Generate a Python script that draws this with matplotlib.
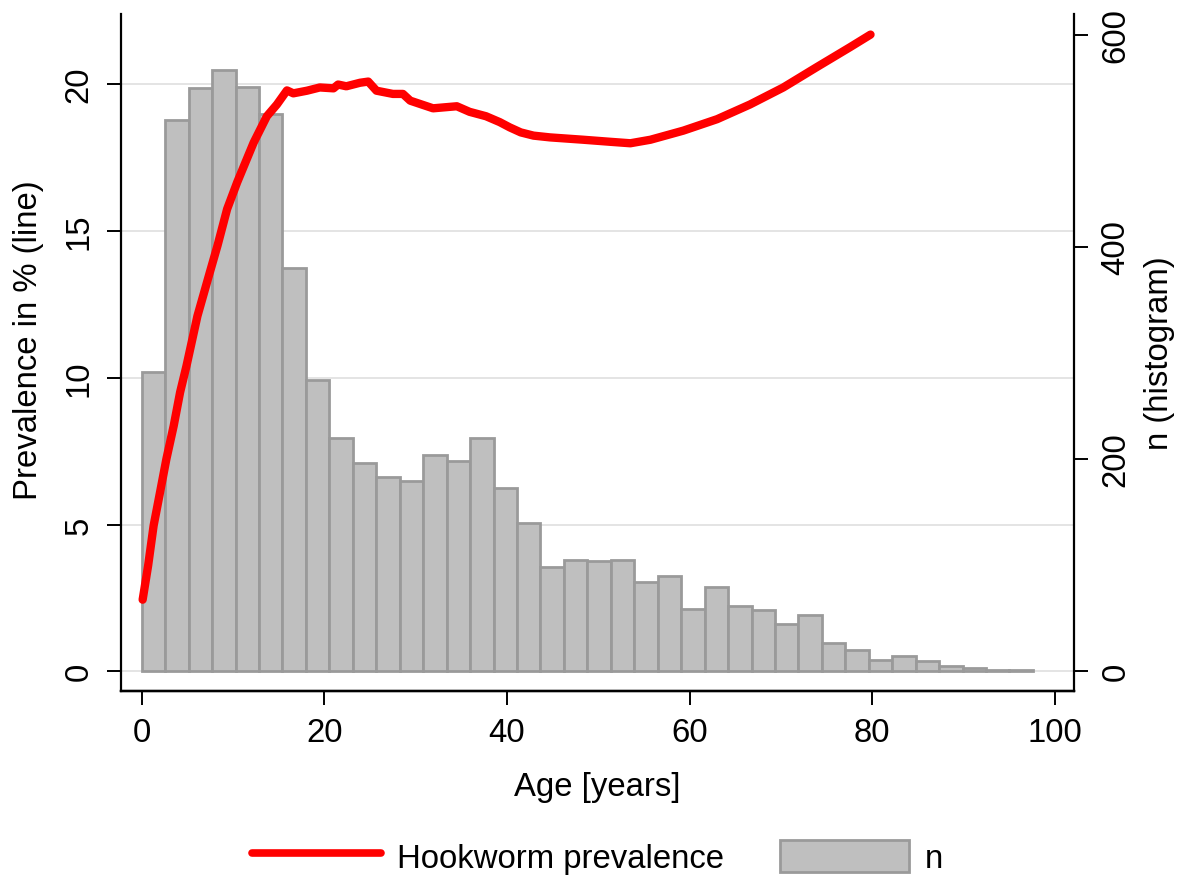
import numpy as np
import matplotlib
matplotlib.use("Agg")
import matplotlib.pyplot as plt
from matplotlib.lines import Line2D
from matplotlib.patches import Patch

plt.rcParams['font.family'] = ['Liberation Sans', 'DejaVu Sans']
plt.rcParams['font.size'] = 23.7

# histogram: 38 bins of equal width from age 0 to ~97.6
bin_width = 2.568
counts = [282, 520, 550, 567, 551, 525, 380, 275, 220, 196,
          183, 179, 204, 198, 220, 173, 140, 98, 105, 104,
          105, 84, 90, 59, 79, 62, 58, 45, 53, 27,
          20, 11, 14, 10, 5, 3, 1.5, 1]

# smoothed prevalence line
age = [0.1, 0.7, 1.3, 2.0, 2.7, 3.5, 4.2, 4.9, 6.1, 7.35,
       8.3, 9.35, 10.45, 12.25, 13.7, 14.8, 15.9, 16.6, 18.1, 19.5,
       21.0, 21.5, 22.4, 23.9, 24.8, 25.7, 27.5, 28.6, 29.4, 31.9,
       34.5, 35.9, 37.7, 39.2, 40.3, 41.5, 42.9, 44.7, 48.35, 51.3,
       53.5, 55.7, 59.3, 63.0, 66.6, 70.25, 73.9, 77.55, 79.8]
prev = [2.44, 3.6, 4.96, 6.09, 7.23, 8.36, 9.5, 10.4, 12.1, 13.47,
        14.5, 15.74, 16.65, 18.0, 18.9, 19.3, 19.78, 19.68, 19.77, 19.88,
        19.85, 19.98, 19.92, 20.04, 20.08, 19.77, 19.66, 19.66, 19.43, 19.17,
        19.24, 19.05, 18.9, 18.7, 18.52, 18.35, 18.24, 18.18, 18.1, 18.03,
        17.98, 18.1, 18.41, 18.8, 19.3, 19.88, 20.57, 21.25, 21.68]

fig = plt.figure(figsize=(11.84, 8.79), dpi=100)
ax = fig.add_axes([0.1022, 0.2127, 0.8049, 0.7702])
ax_n = ax.twinx()
ax_l = ax.twinx()

# grid on the left axis, below the bars
ax.set_xlim(-2.27, 102.08)
ax.set_ylim(-0.67, 22.38)
ax.set_yticks([0, 5, 10, 15, 20])
ax.set_xticks([0, 20, 40, 60, 80, 100])
ax.yaxis.grid(True, color='#dcdcdc', linewidth=1.1)
ax.set_axisbelow(True)

# histogram on the right axis
edges = np.arange(len(counts)) * bin_width
ax_n.bar(edges, counts, width=bin_width, align='edge', color='#bfbfbf',
         edgecolor='#9a9a9a', linewidth=2)
ax_n.set_ylim(-18.6, 619.5)
ax_n.set_yticks([0, 200, 400, 600])

# line on its own axis with the left scale
ax_l.plot(age, prev, color='red', linewidth=6, solid_capstyle='round',
          solid_joinstyle='round')
ax_l.set_ylim(ax.get_ylim())
ax_l.set_yticks([])

for a in (ax, ax_n, ax_l):
    a.spines['top'].set_visible(False)
    for s in a.spines.values():
        s.set_linewidth(1.6)
ax_l.spines['right'].set_visible(False)
ax_l.spines['left'].set_visible(False)
ax_n.spines['left'].set_visible(False)
ax.spines['right'].set_visible(False)

ax.tick_params(axis='both', length=10, width=1.4, pad=9)
ax.tick_params(axis='y', labelrotation=90)
for t in ax.get_yticklabels():
    t.set_va('center')
ax_n.tick_params(axis='y', length=10, width=1.4, pad=9, labelrotation=90)
for t in ax_n.get_yticklabels():
    t.set_va('center')

ax.set_xlabel('Age [years]', labelpad=16)
ax.set_ylabel('Prevalence in % (line)')
ax.yaxis.set_label_coords(-0.081, 0.52)
ax_n.set_ylabel('n (histogram)', labelpad=9)

handles = [Line2D([], [], color='red', linewidth=5.5, solid_capstyle='round'),
           Patch(facecolor='#bfbfbf', edgecolor='#9a9a9a', linewidth=2)]
fig.legend(handles, ['Hookworm prevalence', 'n'], loc='center',
           bbox_to_anchor=(0.505, 0.024), ncol=2, frameon=False,
           handlelength=3.9, handleheight=1.1, handletextpad=0.5,
           columnspacing=1.7)

fig.savefig('out.png', dpi=100)
